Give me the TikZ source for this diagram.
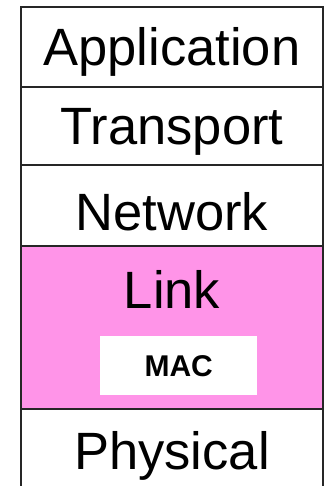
\documentclass[tikz,border=0pt]{standalone}
\usepackage{fontspec}
\setmainfont{Liberation Sans}
\usetikzlibrary{positioning}
\definecolor{linkpink}{HTML}{FF94E8}

\begin{document}
\begin{tikzpicture}[x=1pt, y=-1pt,
    layer/.style={draw=black!85, line width=1.6pt, minimum width=302pt,
                  inner sep=0pt, outer sep=0pt, text height=38pt, text depth=0pt,
                  font=\fontsize{52.5}{52.5}\selectfont},
    sublayer/.style={fill=white, minimum width=157pt, minimum height=59pt,
                     inner sep=0pt, font=\bfseries\fontsize{30}{30}\selectfont}]
  \useasboundingbox (0,0) rectangle (325,486);
  \clip (0,0) rectangle (325,486);
  % the protocol stack, top to bottom
  \node[layer, minimum height=80pt, anchor=north west] (app) at (21,7) {Application};
  \node[layer, minimum height=78pt, below=0pt of app] (transport) {Transport};
  \node[layer, minimum height=81pt, text height=50pt, below=0pt of transport] (network) {Network};
  \node[layer, fill=linkpink, minimum height=163pt, below=0pt of network] (link) {};
  \node[layer, minimum height=82pt, below=0pt of link] (phys) {Physical};
  % link layer label and its MAC sublayer
  \node[inner sep=0pt, text height=38pt, text depth=0pt,
        font=\fontsize{52.5}{52.5}\selectfont, below=24pt of link.north] (linklbl) {Link};
  \node[sublayer, anchor=north west] (mac) at (100,336) {MAC};
\end{tikzpicture}
\end{document}
